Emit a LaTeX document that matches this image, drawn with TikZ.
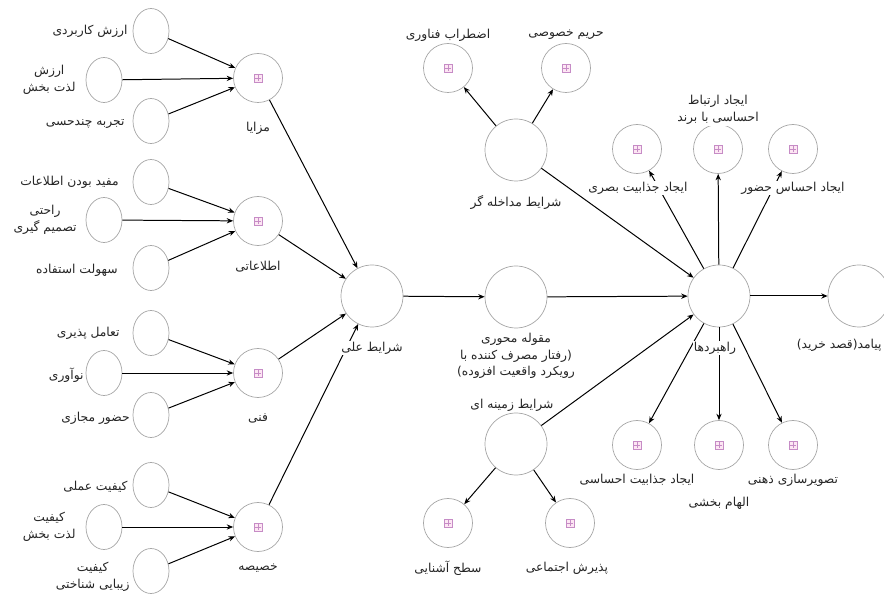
\documentclass[tikz,border=0pt]{standalone}
\usepackage{fontspec}
\usepackage{tikz}
\usetikzlibrary{arrows.meta,positioning,shapes.geometric}
\newfontfamily\arabicfont[Script=Arabic]{DejaVu Sans}
\TeXXeTstate=1
\newcommand{\rl}[1]{\beginR #1\endR}
\tikzset{
    leaf/.style={ellipse, draw=gray!70, line width=0.6pt, minimum width=1.08cm, minimum height=1.35cm, inner sep=0pt},
    plusvertex/.style={circle, draw=gray!70, line width=0.6pt, minimum size=1.47cm, inner sep=0pt,
        path picture={
            \draw[violet!45, fill=magenta!10, line width=0.4pt]
                ([shift={(-3.6pt,-3.6pt)}]path picture bounding box.center) rectangle
                ([shift={(3.6pt,3.6pt)}]path picture bounding box.center);
            \draw[violet!45, line width=0.4pt]
                ([shift={(-2.2pt,0pt)}]path picture bounding box.center) --
                ([shift={(2.2pt,0pt)}]path picture bounding box.center)
                ([shift={(0pt,-2.2pt)}]path picture bounding box.center) --
                ([shift={(0pt,2.2pt)}]path picture bounding box.center);
        }},
    bigvertex/.style={circle, draw=gray!70, line width=0.6pt, minimum size=1.86cm, inner sep=0pt},
    link/.style={draw, line width=0.85pt, -{Stealth[length=5.5pt, width=4.5pt]}},
    lbl/.style={font=\arabicfont\fontsize{10.5}{14}\selectfont, text=black!85, align=center, fill=white, inner sep=1pt}
}
\begin{document}
\begin{tikzpicture}[x=0.03cm, y=-0.03cm]
    \useasboundingbox (0,0) rectangle (884,599);
    % Nodes: left groups
    \node[leaf] (G1a) at (151,31) {};
    \node[leaf] (G1b) at (104,80) {};
    \node[leaf] (G1c) at (151,121) {};
    \node[plusvertex] (G1) at (258,78) {};

    \node[leaf] (G2a) at (151,182) {};
    \node[leaf] (G2b) at (104,220) {};
    \node[leaf] (G2c) at (151,268) {};
    \node[plusvertex] (G2) at (258,221) {};

    \node[leaf] (G3a) at (151,333) {};
    \node[leaf] (G3b) at (104,373) {};
    \node[leaf] (G3c) at (151,415) {};
    \node[plusvertex] (G3) at (258,373) {};

    \node[leaf] (G4a) at (151,485) {};
    \node[leaf] (G4b) at (104,527) {};
    \node[leaf] (G4c) at (151,571) {};
    \node[plusvertex] (G4) at (258,527) {};

    % Nodes: centre and right
    \node[bigvertex] (C) at (372,296) {};
    \node[bigvertex] (P) at (516,297) {};
    \node[bigvertex] (I) at (516,150) {};
    \node[bigvertex] (Z) at (516,444) {};
    \node[bigvertex] (S) at (719,296) {};
    \node[bigvertex] (O) at (859,296) {};

    \node[plusvertex] (I1) at (448,68) {};
    \node[plusvertex] (I2) at (566,68) {};
    \node[plusvertex] (Z1) at (448,523) {};
    \node[plusvertex] (Z2) at (570,523) {};
    \node[plusvertex] (S1) at (637,149) {};
    \node[plusvertex] (S2) at (718,149) {};
    \node[plusvertex] (S3) at (793,149) {};
    \node[plusvertex] (S4) at (637,445) {};
    \node[plusvertex] (S5) at (719,445) {};
    \node[plusvertex] (S6) at (793,445) {};

    % edges
    \draw[link] (G1a) -- (G1);
    \draw[link] (G1b) -- (G1);
    \draw[link] (G1c) -- (G1);
    \draw[link] (G2a) -- (G2);
    \draw[link] (G2b) -- (G2);
    \draw[link] (G2c) -- (G2);
    \draw[link] (G3a) -- (G3);
    \draw[link] (G3b) -- (G3);
    \draw[link] (G3c) -- (G3);
    \draw[link] (G4a) -- (G4);
    \draw[link] (G4b) -- (G4);
    \draw[link] (G4c) -- (G4);
    \draw[link] (G1) -- (C);
    \draw[link] (G2) -- (C);
    \draw[link] (G3) -- (C);
    \draw[link] (G4) -- (C);
    \draw[link] (C) -- (P);
    \draw[link] (P) -- (S);
    \draw[link] (I) -- (S);
    \draw[link] (Z) -- (S);
    \draw[link] (S) -- (O);
    \draw[link] (I) -- (I1);
    \draw[link] (I) -- (I2);
    \draw[link] (Z) -- (Z1);
    \draw[link] (Z) -- (Z2);
    \draw[link] (S) -- (S1);
    \draw[link] (S) -- (S2);
    \draw[link] (S) -- (S3);
    \draw[link] (S) -- (S4);
    \draw[link] (S) -- (S5);
    \draw[link] (S) -- (S6);

    % labels
    \node[lbl, anchor=east] (tG1a) at (129,31) {\rl{ارزش کاربردی}};
    \node[lbl, anchor=east] (tG1b) at (77,80) {\rl{ارزش}\\\rl{لذت بخش}};
    \node[lbl, anchor=east] (tG1c) at (126,124) {\rl{تجربه چندحسی}};
    \node[lbl] (tG1) at (258,128) {\rl{مزایا}};

    \node[lbl, anchor=east] (tG2a) at (120,182) {\rl{مفید بودن اطلاعات}};
    \node[lbl, anchor=east] (tG2b) at (78,220) {\rl{راحتی}\\\rl{تصمیم گیری}};
    \node[lbl, anchor=east] (tG2c) at (119,270) {\rl{سهولت استفاده}};
    \node[lbl] (tG2) at (258,267) {\rl{اطلاعاتی}};

    \node[lbl, anchor=east] (tG3a) at (121,333) {\rl{تعامل پذیری}};
    \node[lbl, anchor=east] (tG3b) at (85,375) {\rl{نوآوری}};
    \node[lbl, anchor=east] (tG3c) at (131,418) {\rl{حضور مجازی}};
    \node[lbl] (tG3) at (258,418) {\rl{فنی}};

    \node[lbl, anchor=east] (tG4a) at (129,487) {\rl{کیفیت عملی}};
    \node[lbl, anchor=east] (tG4b) at (77,527) {\rl{کیفیت}\\\rl{لذت بخش}};
    \node[lbl, anchor=east] (tG4c) at (131,577) {\rl{کیفیت}\\\rl{زیبایی شناختی}};
    \node[lbl] (tG4) at (258,568) {\rl{خصیصه}};

    \node[lbl] (tC) at (372,348) {\rl{شرایط علی}};
    \node[lbl] (tP) at (516,356) {\rl{مقوله محوری}\\\rl{(رفتار مصرف کننده با}\\\rl{رویکرد واقعیت افزوده)}};
    \node[lbl] (tI) at (516,202) {\rl{شرایط مداخله گر}};
    \node[lbl] (tI1) at (448,35) {\rl{اضطراب فناوری}};
    \node[lbl] (tI2) at (566,35) {\rl{حریم خصوصی}};
    \node[lbl] (tZ) at (512,405) {\rl{شرایط زمینه ای}};
    \node[lbl] (tZ1) at (448,568) {\rl{سطح آشنایی}};
    \node[lbl] (tZ2) at (567,568) {\rl{پذیرش اجتماعی}};
    \node[lbl] (tS) at (715,348) {\rl{راهبردها}};
    \node[lbl, anchor=east] (tO) at (883,345) {\rl{پیامد(قصد خرید)}};
    \node[lbl] (tS1) at (638,188) {\rl{ایجاد جذابیت بصری}};
    \node[lbl] (tS2) at (718,110) {\rl{ایجاد ارتباط}\\\rl{احساسی با برند}};
    \node[lbl] (tS3) at (793,188) {\rl{ایجاد احساس حضور}};
    \node[lbl] (tS4) at (637,480) {\rl{ایجاد جذابیت احساسی}};
    \node[lbl] (tS5) at (719,503) {\rl{الهام بخشی}};
    \node[lbl] (tS6) at (793,480) {\rl{تصویرسازی ذهنی}};
\end{tikzpicture}
\end{document}
